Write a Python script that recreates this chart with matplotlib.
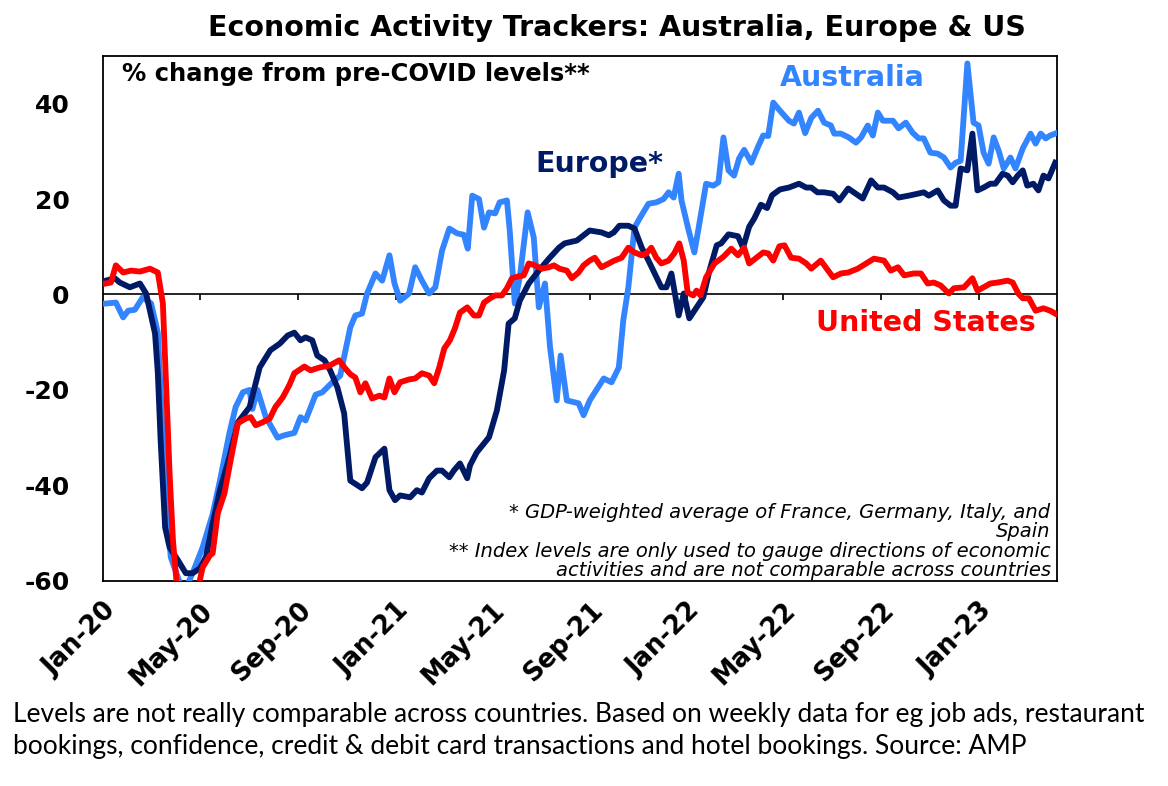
import pandas as pd
import matplotlib
matplotlib.use("Agg")
import matplotlib.pyplot as plt

# weeks since 1 Jan 2020, % change from pre-COVID levels
aus_wk = [0.5, 2.3, 3.6, 4.5, 5.7, 7.1, 8.6, 9.8, 11.1, 12.1, 13.9, 15.0, 16.0, 17.8, 19.6, 20.9,
          22.6, 23.7, 25.0, 26.2, 26.7, 27.6, 29.1, 31.2, 32.4, 34.2, 35.3, 36.2, 38.0, 39.2, 41.0,
          42.4, 44.2, 45.1, 46.3, 47.2, 48.7, 49.9, 51.2, 52.1, 53.1, 54.7, 55.8, 57.0, 58.3, 59.4,
          60.6, 61.9, 63.3, 64.5, 65.2, 66.0, 67.2, 68.1, 69.0, 70.1, 70.9, 72.2, 72.7, 73.6, 74.5,
          75.9, 77.0, 77.9, 79.0, 79.9, 81.1, 81.8, 82.9, 85.0, 85.9, 87.0, 88.2, 89.5, 90.9, 92.2,
          93.0, 93.9, 95.0, 95.9, 97.5, 98.9, 100.2, 101.1, 102.0, 102.9, 103.4, 104.6, 105.7, 106.6,
          107.8, 109.1, 110.0, 110.9, 111.8, 112.8, 113.7, 114.6, 115.9, 117.1, 118.0, 118.9, 119.8,
          121.0, 122.6, 123.5, 124.4, 125.5, 126.6, 127.8, 128.9, 130.1, 130.7, 131.9, 133.3, 134.6,
          135.5, 136.7, 137.6, 138.5, 139.4, 141.2, 142.2, 143.5, 144.7, 145.8, 146.7, 147.9, 149.2,
          150.3, 151.5, 152.4, 153.3, 154.5, 155.6, 156.5, 157.4, 158.3, 159.2, 160.1, 161.0, 162.2,
          163.1, 164.4, 165.8, 166.7, 167.6, 168.5, 169.3, 170.2]
aus_val = [-1.9, -1.7, -4.8, -3.4, -3.2, -0.6, -1.9, -8, -40, -55, -61, -61, -58.4, -53, -46, -39,
           -29, -23.6, -20.5, -20, -24, -20, -25.7, -30, -29.5, -29, -25.7, -26.4, -21, -20.5, -18.4,
           -17, -6.9, -4.4, -4, 0.2, 4.4, 2.9, 8.2, 2.3, -1.3, 0.2, 5.7, 2.9, 0.2, 1.5,
           9.2, 13.8, 12.8, 12.5, 9.6, 20.7, 20, 14, 17.2, 17, 19.3, 19.7, 13.4, -1.9, 3.6,
           17.2, 11.9, -2.7, 2.3, -11, -22.2, -12.8, -22.2, -22.8, -25.3, -22.2, -20, -17.6, -18.4, -15.3,
           -5.4, 1.5, 14, 15.9, 19, 19.3, 20, 21.4, 20.3, 25.3, 19.7, 13.8, 8.8, 14.9,
           23.2, 22.8, 23.5, 32.9, 26, 24.9, 28.5, 30.3, 27.6, 31, 33.3, 33.2, 40.2,
           38.5, 36.4, 35.8, 38.1, 33.8, 37, 38.5, 36, 35.4, 33.7, 33.7, 32.9, 31.8,
           32.9, 35.4, 33.3, 38.1, 36.4, 36.4, 34.8, 36, 33.9, 32.7, 32.7, 29.7, 29.5,
           28.7, 26.6, 27.6, 28, 48.4, 36, 35.4, 29.7, 27.4, 32.9, 30.1, 26.4, 28.7,
           26.4, 30.6, 33.7, 31.6, 33.7, 32.7, 33.3, 33.7]

eur_wk = [0.5, 2.1, 3.0, 4.8, 6.6, 7.7, 9.3, 9.8, 10.3, 11.1, 11.9, 13.4, 14.8, 16.0, 17.3, 18.4,
          19.6, 20.9, 22.6, 24.1, 26.2, 28.0, 29.9, 31.6, 33.0, 34.2, 35.3, 36.2, 37.4, 38.3, 39.6,
          40.6, 41.9, 43.1, 44.2, 46.3, 47.2, 48.7, 50.3, 51.2, 52.2, 53.1, 54.9, 56.1, 57.0, 58.3,
          59.7, 60.6, 61.9, 62.7, 63.8, 65.1, 65.6, 66.8, 69.0, 70.4, 71.7, 72.5, 73.6, 74.5, 76.1,
          77.9, 79.7, 81.5, 82.5, 84.7, 85.9, 87.0, 89.1, 90.4, 91.3, 92.3, 93.9, 95.0, 96.3, 97.5,
          98.6, 99.8, 100.7, 101.6, 102.9, 103.8, 104.8, 106.1, 107.3, 108.4, 109.7, 110.5, 111.8,
          113.5, 114.4, 115.5, 116.4, 117.6, 118.7, 119.6, 121.0, 122.6, 124.4, 125.7, 126.6, 127.7,
          128.9, 130.5, 131.6, 133.2, 134.2, 135.8, 137.3, 138.5, 139.6, 141.2, 142.2, 144.0, 145.6,
          146.7, 147.6, 149.2, 150.3, 151.5, 152.4, 153.3, 154.5, 155.4, 156.3, 157.4, 158.6, 159.5,
          160.8, 161.7, 162.6, 163.5, 164.4, 165.2, 166.3, 167.2, 168.1, 169.0, 170.2]
eur_val = [2.9, 3.4, 2.5, 1.5, 2.3, 0.2, -8.2, -16.5, -30.6, -48.8, -53, -55.7, -58.4, -58.4, -57.4, -55,
           -48, -41, -34, -26.8, -23.6, -15.3, -11.7, -10.3, -8.6, -8, -9.6, -9, -9.6, -12.8, -13.8,
           -15.9, -19.5, -24.9, -39, -40.6, -39.4, -34.1, -32.3, -41, -43.1, -42.1, -42.5, -41, -41.5, -38.5,
           -36.9, -36.9, -38.3, -36.9, -35.4, -38.5, -35.8, -33.1, -29.9, -24.3, -15.9, -6.1, -5, -1.3, 2.3,
           5, 7.5, 9.8, 10.7, 11.3, 12.4, 13.4, 13, 12.4, 13, 14.4, 14.4, 13.8, 9.8, 7.1,
           4.4, 1.5, 1.5, 4.4, -4.4, 0.2, -5, -2.7, -0.6, 5, 10.3, 10.7, 12.6,
           12.2, 9.8, 14.2, 15.9, 18.8, 18.1, 20.8, 22, 22.4, 23.2, 22.4, 22.4, 21.4,
           21.4, 21.1, 19.7, 22.2, 21.4, 20.1, 23.9, 22.4, 22.4, 21.4, 20.3, 20.7, 21.1,
           21.4, 20.7, 21.8, 19.7, 18.6, 18.6, 26.4, 26, 33.7, 21.8, 22.4, 23.2, 23.2,
           25.3, 24.9, 23.5, 24.9, 26, 22.8, 23.2, 21.8, 24.9, 24.3, 27.6]

us_wk = [0.5, 1.4, 2.3, 3.6, 5.0, 6.6, 8.4, 9.8, 10.7, 11.2, 11.9, 12.5, 13.2, 14.3, 16.0, 17.1,
         17.8, 19.1, 19.6, 20.5, 21.7, 22.8, 24.1, 25.5, 26.4, 27.3, 28.5, 29.8, 30.8, 32.1, 33.3,
         34.2, 36.0, 37.1, 38.7, 40.5, 42.2, 43.3, 44.2, 45.1, 46.0, 46.9, 48.1, 49.4, 50.3, 51.2,
         52.1, 53.1, 54.7, 55.8, 57.0, 58.3, 59.2, 60.1, 61.0, 62.0, 62.9, 63.8, 65.1, 66.3, 67.2,
         68.1, 69.2, 70.1, 71.3, 72.2, 73.1, 74.3, 75.2, 76.1, 77.2, 78.4, 79.7, 80.6, 81.6, 82.9,
         83.8, 85.0, 85.9, 87.0, 87.9, 89.1, 90.4, 91.4, 92.7, 93.9, 95.0, 96.3, 97.1, 98.0, 98.9,
         99.8, 101.1, 102.1, 103.0, 103.8, 104.5, 105.5, 106.1, 106.8, 107.8, 109.3, 110.9, 112.3,
         113.5, 114.6, 115.5, 116.8, 118.0, 118.9, 119.8, 120.9, 121.8, 123.0, 124.4, 125.7, 126.6,
         128.3, 130.5, 131.9, 133.2, 134.9, 136.7, 137.8, 139.6, 140.8, 142.1, 143.2, 144.9, 146.2,
         147.4, 148.5, 149.7, 151.2, 152.1, 153.9, 155.4, 156.3, 157.4, 158.6, 159.9, 161.7, 162.6,
         163.6, 164.4, 165.5, 166.7, 168.1, 169.3, 170.2]
us_val = [2.3, 2.5, 6.1, 4.6, 5, 4.8, 5.4, 4.6, -1.9, -16.5, -37.5, -51.5, -61, -64, -64, -61,
          -57.2, -54.7, -54.2, -45.9, -41.7, -34.8, -27, -26, -25.7, -27.4, -26.8, -26, -23.6, -21.6, -19,
          -16.5, -15.1, -15.9, -15.3, -14.9, -13.8, -15.5, -16.7, -17.4, -20.5, -18.6, -21.8, -21.2, -21.6, -17.6,
          -20.5, -18.4, -17.8, -17.6, -16.5, -17, -18.6, -15.3, -11.3, -9.6, -7.1, -3.8, -2.7, -4.4, -4.4,
          -1.7, -0.8, -0.2, -0.2, 1.3, 3.4, 3.8, 4, 6.5, 6.1, 5.4, 5.7, 6.1, 5.4, 5,
          3.4, 4.6, 6.1, 7.1, 7.7, 5.7, 6.5, 7.1, 7.7, 9.8, 8.8, 8.2, 8.6, 9.8, 7.7,
          6.5, 7.1, 8.6, 10.7, 7.1, 0.4, -0.2, 0.8, -0.2, 3.6, 6.5, 7.9, 9.6,
          8.2, 9.8, 6.5, 7.7, 8.8, 8.6, 7.1, 10.1, 10.3, 7.7, 7.5, 6.5, 5.4,
          7.1, 3.6, 4.4, 4.6, 5.4, 6.7, 7.5, 7.1, 5, 5.7, 4, 4.4, 4.4,
          2.3, 2.5, 1.9, 0.2, 1.3, 1.5, 3.4, 0.8, 1.5, 2.3, 2.5, 2.9, 2.5,
          0.2, -0.8, -0.8, -3.4, -2.9, -3.4, -4]

tick_dates = pd.date_range("2020-01-01", "2023-01-01", freq="4MS")
y_ticks = [-60, -40, -20, 0, 20, 40]

start = pd.Timestamp("2020-01-01")
def to_dates(weeks):
    return [start + pd.Timedelta(days=w * 7) for w in weeks]

fig = plt.figure(figsize=(11.68, 7.86), dpi=100)
ax = fig.add_axes([0.0882, 0.261, 0.817, 0.668])

bold = dict(family="DejaVu Sans", weight="bold")
ax.plot(to_dates(aus_wk), aus_val, color="#3385FF", lw=4.2, solid_joinstyle="round", zorder=3)
ax.plot(to_dates(eur_wk), eur_val, color="#001A66", lw=4.2, solid_joinstyle="round", zorder=4)
ax.plot(to_dates(us_wk), us_val, color="#FF0000", lw=4.2, solid_joinstyle="round", zorder=5)

ax.set_ylim(-60, 50)
ax.set_xlim(pd.Timestamp("2020-01-01"), pd.Timestamp("2023-04-09"))
ax.axhline(0, color="black", lw=1.2, zorder=2)
ax.vlines(tick_dates[1:], -1.1, 0, color="black", lw=1.2, zorder=2)

ax.set_yticks(y_ticks)
ax.set_yticklabels([str(v) for v in y_ticks], **bold, fontsize=18)
ax.set_xticks(tick_dates)
ax.set_xticklabels([d.strftime("%b-%y") for d in tick_dates], **bold, fontsize=18.5,
                   rotation=45, ha="right", va="top", rotation_mode="anchor")
ax.tick_params(axis="y", length=0, pad=24)
ax.tick_params(axis="x", length=0, pad=12)
for s in ax.spines.values():
    s.set_linewidth(1.3)
    s.set_color("black")

ax.text(0.02, 0.966, "% change from pre-COVID levels**", transform=ax.transAxes,
        fontsize=17.5, va="center", ha="left", color="black", **bold)
ax.text(0.709, 0.958, "Australia", transform=ax.transAxes, fontsize=20.5,
        va="center", ha="left", color="#3385FF", **bold)
ax.text(0.453, 0.794, "Europe*", transform=ax.transAxes, fontsize=20.5,
        va="center", ha="left", color="#001A66", **bold)
ax.text(0.747, 0.491, "United States", transform=ax.transAxes, fontsize=20.5,
        va="center", ha="left", color="#FF0000", **bold)

note = dict(family="DejaVu Sans", style="italic", fontsize=14, ha="right",
            multialignment="right", transform=ax.transAxes, linespacing=0.95)
ax.text(0.993, 0.112, "* GDP-weighted average of France, Germany, Italy, and\nSpain",
        va="center", **note)
ax.text(0.993, 0.038, "** Index levels are only used to gauge directions of economic\n"
        "activities and are not comparable across countries", va="center", **note)

fig.text(0.528, 0.964, "Economic Activity Trackers: Australia, Europe & US",
         ha="center", va="center", fontsize=20.5, **bold)
fig.text(0.011, 0.071, "Levels are not really comparable across countries. Based on weekly data for "
         "eg job ads, restaurant\nbookings, confidence, credit & debit card transactions and hotel "
         "bookings. Source: AMP", ha="left", va="center", fontsize=19, family="Lato",
         linespacing=1.35)

fig.savefig("out.png", dpi=100)
